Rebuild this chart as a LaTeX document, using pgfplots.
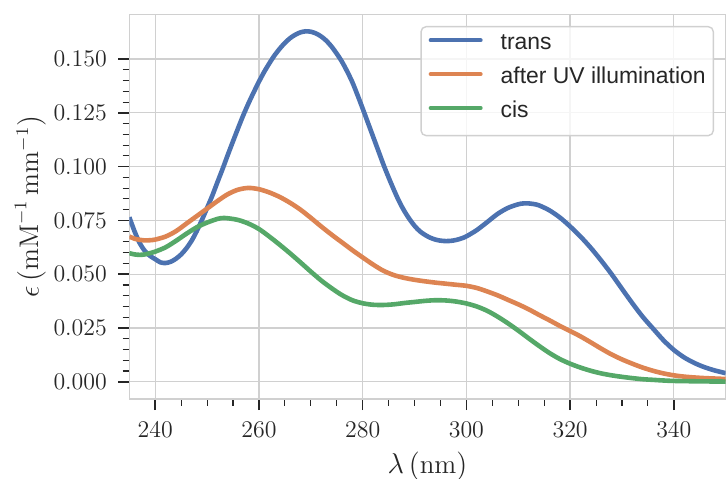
\documentclass[border=0pt]{standalone}
\usepackage{fontspec}
\setsansfont{Liberation Sans}
\usepackage{pgfplots}
\pgfplotsset{compat=1.18}
\definecolor{sblue}{HTML}{4C72B0}
\definecolor{sorange}{HTML}{DD8452}
\definecolor{sgreen}{HTML}{55A868}
\definecolor{txt}{HTML}{262626}
\definecolor{gridc}{HTML}{D0D0D0}
\begin{document}
\begin{tikzpicture}
\useasboundingbox (-64.65bp,-40bp) rectangle (299.35bp,199.5bp);
\begin{axis}[
  at={(0,0)}, anchor=south west,
  scale only axis,
  width=298.2bp, height=192.35bp,
  xmin=235, xmax=350,
  ymin=-0.008, ymax=0.1708,
  xtick={240,260,...,340},
  ytick={0,0.025,...,0.151},
  minor x tick num=3,
  minor y tick num=4,
  tick align=outside,
  xtick pos=bottom, ytick pos=left,
  major tick length=5.5bp,
  minor tick length=3.3bp,
  major tick style={draw=txt, line width=0.8bp},
  minor tick style={draw=txt, line width=0.55bp},
  axis line style={draw=gridc, line width=0.7bp},
  grid=major,
  major grid style={draw=gridc, line width=0.65bp},
  yticklabel style={/pgf/number format/fixed, /pgf/number format/fixed zerofill, /pgf/number format/precision=3, font=\fontsize{12}{14}\selectfont, text=txt},
  xticklabel style={font=\fontsize{12}{14}\selectfont, text=txt},
  xticklabel shift=2.4bp,
  yticklabel shift=2.2bp,
  scaled y ticks=false,
  xlabel={$\lambda\,(\mathrm{nm})$},
  ylabel={$\epsilon\,(\mathrm{mM}^{-1}\,\mathrm{mm}^{-1})$},
  label style={font=\fontsize{13.5}{15}\selectfont, text=txt},
  xlabel style={at={(axis description cs:0.5,0)}, anchor=center, yshift=-33.5bp},
  ylabel style={at={(axis description cs:0,0.5)}, anchor=center, yshift=49.5bp},
  legend cell align=left,
  legend style={at={(rel axis cs:0.9804,0.9696)}, anchor=north east,
    draw=gridc, line width=0.7bp, rounded corners=2.5bp, fill=white, fill opacity=0.8, text opacity=1,
    font=\sffamily\fontsize{11.5}{13}\selectfont, text=txt,
    inner xsep=3.8bp, inner ysep=1.8bp, row sep=0pt,
    nodes={inner sep=0pt, text height=9.6bp, text depth=7.35bp},
    /tikz/every odd column/.style={column sep=9bp}},
  legend image code/.code={\draw[#1, line width=2bp, line cap=round] (0bp,3.5bp) -- (25bp,3.5bp);},
  every axis plot/.append style={line width=2.3bp, line join=round},
]
\addplot[sblue, smooth] coordinates {
(235,0.0765)(236,0.0700)(237,0.0645)(238,0.0608)(239,0.0585)(240,0.0570)(241,0.0555)(242,0.0552)(243,0.0558)(244,0.0572)
(245,0.0592)(246,0.0620)(247,0.0655)(248,0.0700)(249,0.0752)(250,0.0808)(251,0.0865)(252,0.0928)(253,0.0990)(254,0.1055)
(255,0.1118)(256,0.1180)(257,0.1240)(258,0.1295)(259,0.1346)(260,0.1395)(261,0.1440)(262,0.1480)(263,0.1517)(264,0.1548)
(265,0.1575)(266,0.1597)(267,0.1613)(268,0.1624)(269,0.1629)(270,0.1627)(271,0.1619)(272,0.1605)(273,0.1585)(274,0.1558)
(275,0.1525)(276,0.1488)(277,0.1443)(278,0.1393)(279,0.1333)(280,0.1270)(281,0.1205)(282,0.1140)(283,0.1075)(284,0.1010)
(285,0.0950)(286,0.0893)(287,0.0840)(288,0.0795)(289,0.0757)(290,0.0725)(291,0.0700)(292,0.0683)(293,0.0670)(294,0.0661)
(295,0.0656)(296,0.0654)(297,0.0655)(298,0.0659)(299,0.0666)(300,0.0676)(302,0.0705)(304,0.0742)(306,0.0780)(308,0.0808)
(310,0.0825)(311,0.0829)(312,0.0829)(313,0.0826)(314,0.0820)(316,0.0797)(318,0.0764)(320,0.0722)(322,0.0675)(324,0.0622)
(326,0.0563)(328,0.0500)(330,0.0432)(332,0.0365)(334,0.0302)(336,0.0247)(338,0.0193)(340,0.0148)(342,0.0113)(344,0.0087)
(346,0.0067)(348,0.0052)(350,0.0040)
};
\addlegendentry{trans}
\addplot[sorange, smooth] coordinates {
(235,0.0675)(236,0.0665)(237,0.0660)(238,0.0657)(239,0.0658)(240,0.0661)(242,0.0675)(244,0.0700)(246,0.0735)(248,0.0770)
(250,0.0805)(252,0.0840)(254,0.0872)(256,0.0893)(258,0.0901)(260,0.0895)(262,0.0880)(264,0.0859)(266,0.0832)(268,0.0800)
(270,0.0762)(272,0.0722)(274,0.0684)(276,0.0648)(278,0.0612)(280,0.0578)(282,0.0545)(284,0.0516)(286,0.0496)(288,0.0483)
(290,0.0474)(292,0.0467)(294,0.0461)(296,0.0456)(298,0.0451)(300,0.0446)(302,0.0436)(304,0.0420)(306,0.0402)(308,0.0381)
(310,0.0360)(312,0.0337)(314,0.0311)(316,0.0286)(318,0.0260)(320,0.0236)(322,0.0211)(324,0.0183)(326,0.0154)(328,0.0127)
(330,0.0104)(332,0.0084)(334,0.0066)(336,0.0051)(338,0.0039)(340,0.0030)(342,0.0024)(344,0.0020)(346,0.0017)(348,0.0015)
(350,0.0013)
};
\addlegendentry{after UV illumination}
\addplot[sgreen, smooth] coordinates {
(235,0.0598)(236,0.0592)(237,0.0590)(238,0.0592)(239,0.0598)(240,0.0605)(242,0.0625)(244,0.0655)(246,0.0688)(248,0.0718)
(250,0.0740)(252,0.0757)(253,0.0761)(254,0.0760)(256,0.0752)(258,0.0735)(260,0.0710)(262,0.0675)(264,0.0637)(266,0.0597)
(268,0.0555)(270,0.0512)(272,0.0471)(274,0.0435)(276,0.0403)(278,0.0379)(280,0.0365)(282,0.0358)(284,0.0357)(286,0.0360)
(288,0.0366)(290,0.0371)(292,0.0376)(294,0.0379)(296,0.0378)(298,0.0373)(300,0.0364)(302,0.0350)(304,0.0330)(306,0.0303)
(308,0.0272)(310,0.0238)(312,0.0202)(314,0.0167)(316,0.0134)(318,0.0106)(320,0.0084)(322,0.0066)(324,0.0051)(326,0.0039)
(328,0.0030)(330,0.0023)(332,0.0017)(334,0.0012)(336,0.0009)(338,0.0006)(340,0.0004)(345,0.0002)(350,0.0001)
};
\addlegendentry{cis}
\end{axis}
\end{tikzpicture}
\end{document}
